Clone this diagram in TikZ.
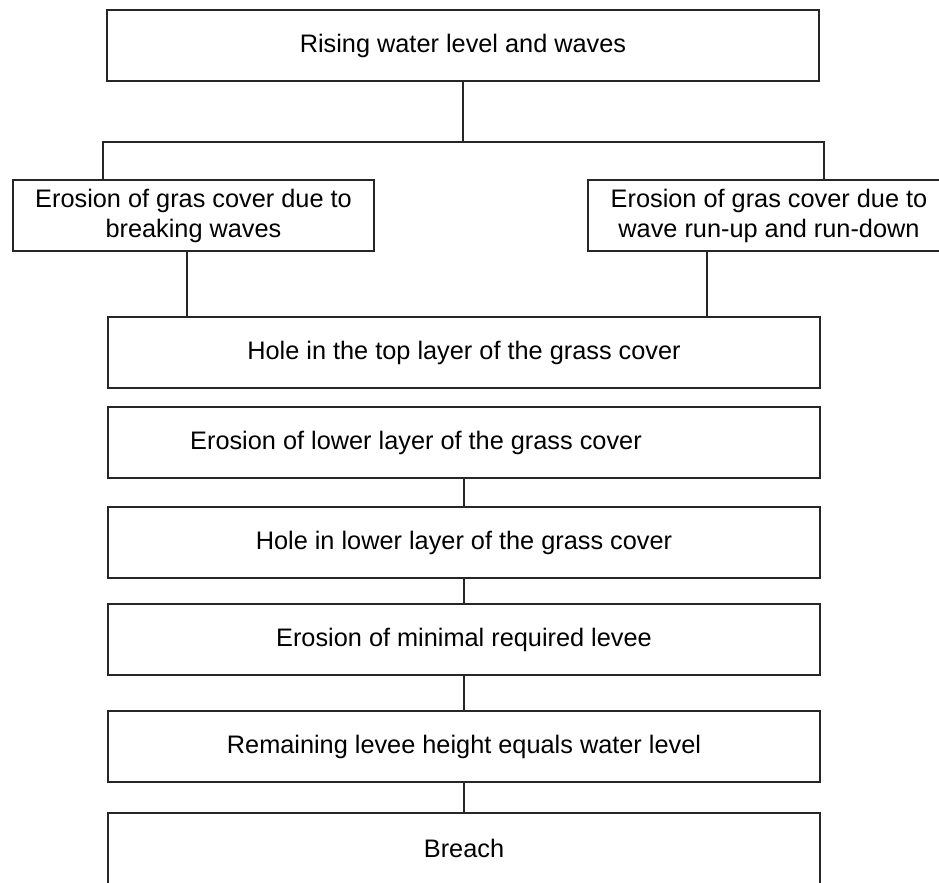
\documentclass[tikz,border=0pt]{standalone}
\usepackage{fontspec}
\setmainfont{Liberation Sans}
\usetikzlibrary{positioning}

\begin{document}
\begin{tikzpicture}[
  x=0.025cm, y=-0.025cm,
  box/.style={rectangle, draw=black!85, line width=1.3pt, minimum height=1.775cm,
              inner sep=0pt, align=center, font=\fontsize{18}{21.3}\selectfont},
  widebox/.style={box, minimum width=17.8cm},
  halfbox/.style={box, minimum width=9.03cm},
  link/.style={draw=black!85, line width=1.3pt}
]
\useasboundingbox (0,0) rectangle (939,882);

%% ---- top: load ----
\node[widebox] (load) at (463, 45.5) {Rising water level and waves};

%% ---- two erosion branches ----
\node[halfbox] (grasbreak) at (193.5, 215.5) {Erosion of gras cover due to\\breaking waves};
\node[halfbox] (grasrunup) at (769, 215.5)   {Erosion of gras cover due to\\wave run-up and run-down};

%% ---- chain down to breach ----
\node[widebox] (holetop)  at (464, 352.5) {Hole in the top layer of the grass cover};
\node[widebox] (erolow)   at (464, 442.5) {Erosion of lower layer of the grass cover\hspace*{2.4cm}};
\node[widebox] (holelow)  at (464, 542.5) {Hole in lower layer of the grass cover};
\node[widebox] (eromin)   at (464, 639.5) {Erosion of minimal required levee};
\node[widebox] (remain)   at (464, 746.5) {Remaining levee height equals water level};
\node[widebox] (breach)   at (464, 848.5) {Breach};

%% ---- split and join points ----
\coordinate (split)  at (463, 142);
\coordinate (splitl) at (103, 142);
\coordinate (splitr) at (824, 142);
\coordinate (footl)  at (187, 317);
\coordinate (footr)  at (707, 317);

\draw[link] (load) -- (split);
\draw[link] (grasbreak.north -| splitl) -- (splitl) -- (splitr) -- (grasrunup.north -| splitr);
\draw[link] (grasbreak.south -| footl) -- (footl);
\draw[link] (grasrunup.south -| footr) -- (footr);

\draw[link] (erolow) -- (holelow);
\draw[link] (holelow) -- (eromin);
\draw[link] (eromin) -- (remain);
\draw[link] (remain) -- (breach);

\end{tikzpicture}
\end{document}
